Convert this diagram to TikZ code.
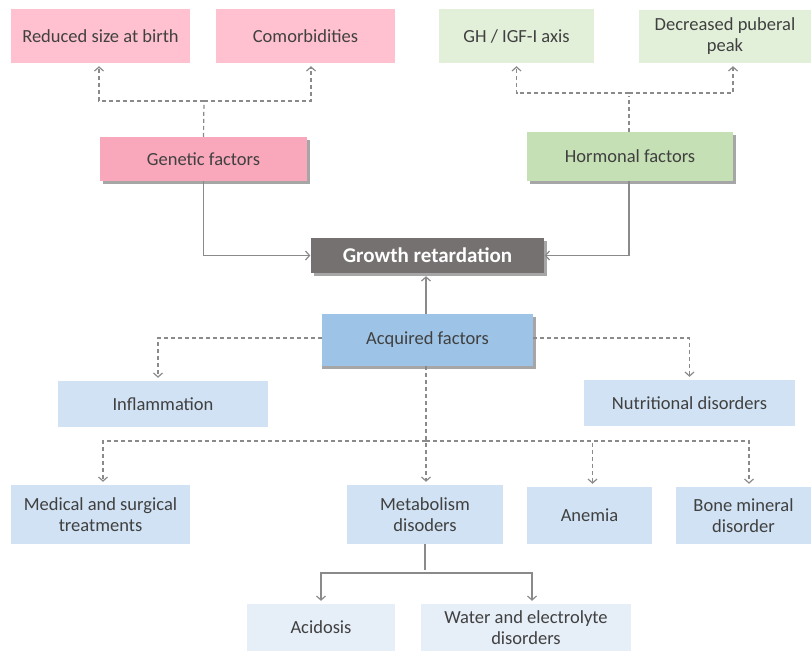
\documentclass[tikz,border=0pt]{standalone}
\usepackage{fontspec}
\setmainfont{Carlito}
\usepackage{tikz}
\usetikzlibrary{arrows.meta, calc, positioning, shadows}

\definecolor{pinklt}{HTML}{FFC1CF}
\definecolor{pinkdk}{HTML}{F9A7BA}
\definecolor{greenlt}{HTML}{E2F0DA}
\definecolor{greendk}{HTML}{C5E0B4}
\definecolor{growgray}{HTML}{767171}
\definecolor{bluedk}{HTML}{9DC3E6}
\definecolor{bluemd}{HTML}{D0E2F3}
\definecolor{bluelt}{HTML}{E6EEF8}
\definecolor{linegray}{HTML}{8A8A8A}
\definecolor{txtgray}{HTML}{404040}

\begin{document}
\begin{tikzpicture}[
    x=1pt, y=-1pt,
    >={Straight Barb[length=4pt,width=9pt]},
    box/.style={
        align=center,
        inner sep=2pt,
        text=txtgray,
        font=\fontsize{18.5}{21}\selectfont
    },
    factor/.style={
        box,
        drop shadow={shadow xshift=2.5pt, shadow yshift=-2.5pt, fill=black!35, opacity=1}
    },
    cause/.style={->, linegray, line width=1.2pt, shorten >=3pt},
    hint/.style={cause, dash pattern=on 4pt off 3pt}
]
\useasboundingbox (0,0) rectangle (811,651);

% genetic branch
\node[box, fill=pinklt, minimum width=179pt, minimum height=54pt] (birth) at (100.5,36) {Reduced size at birth};
\node[box, fill=pinklt, minimum width=179pt, minimum height=54pt] (comorb) at (305.5,36) {Comorbidities};
\node[factor, fill=pinkdk, minimum width=207pt, minimum height=44pt] (gen) at (203.5,159) {Genetic factors};

% hormonal branch
\node[box, fill=greenlt, minimum width=155pt, minimum height=54pt] (axis) at (516.5,36) {GH / IGF-I axis};
\node[box, fill=greenlt, minimum width=172pt, minimum height=53pt] (peak) at (725,36.5) {Decreased puberal\\peak};
\node[factor, fill=greendk, minimum width=206pt, minimum height=49pt] (hor) at (630,156.5) {Hormonal factors};

% centre
\node[factor, fill=growgray, text=white, minimum width=233pt, minimum height=35pt,
      font=\fontsize{21}{24}\selectfont\bfseries] (grow) at (427.5,255.5) {Growth retardation};
\node[factor, fill=bluedk, minimum width=211pt, minimum height=52pt,
      drop shadow={shadow xshift=0pt, shadow yshift=-3pt, fill=black!35, opacity=1}] (acq) at (427.5,340) {Acquired factors};

% acquired branch
\node[box, fill=bluemd, minimum width=210pt, minimum height=46pt] (infl) at (163,404) {Inflammation};
\node[box, fill=bluemd, minimum width=211pt, minimum height=46pt] (nutr) at (689.5,403) {Nutritional disorders};
\node[box, fill=bluemd, minimum width=179pt, minimum height=59pt] (treat) at (100.5,514.5) {Medical and surgical\\treatments};
\node[box, fill=bluemd, minimum width=156pt, minimum height=59pt] (metab) at (425,514.5) {Metabolism\\disoders};
\node[box, fill=bluemd, minimum width=125pt, minimum height=57pt] (anemia) at (589.5,515.5) {Anemia};
\node[box, fill=bluemd, minimum width=135pt, minimum height=57pt] (bone) at (743.5,515.5) {Bone mineral\\disorder};
\node[box, fill=bluelt, minimum width=148pt, minimum height=47pt] (acid) at (321,627.5) {Acidosis};
\node[box, fill=bluelt, minimum width=210pt, minimum height=47pt] (water) at (526,627.5) {Water and electrolyte\\disorders};

% split points
\coordinate (gsplit) at (204,101);
\coordinate (hsplit) at (629,93);
\coordinate (asplit) at (426,441);
\coordinate (msplit) at (425,573);

\draw[hint, -] (gen.north) -- (gsplit);
\draw[hint] (gsplit) -| ([xshift=-1.5pt]birth.south);
\draw[hint] (gsplit) -| ([xshift=5.5pt]comorb.south);

\draw[hint, -] ([xshift=-1pt]hor.north) -- (hsplit);
\draw[hint] (hsplit) -| (axis.south);
\draw[hint] (hsplit) -| ([xshift=8pt]peak.south);

\draw[cause, shorten >=0.5pt] (gen.south) |- (grow.west);
\draw[cause, shorten >=0.5pt] ([xshift=-1pt]hor.south) |- (grow.east);
\draw[cause] ([xshift=-1.5pt]acq.north) -- ([xshift=-1.5pt]grow.south);

\draw[hint] ([yshift=2pt]acq.west) -| ([xshift=-5pt]infl.north);
\draw[hint] ([yshift=2pt]acq.east) -| (nutr.north);
\draw[hint] ([xshift=-1.5pt]acq.south) -- ([xshift=1pt]metab.north);
\draw[hint] (asplit) -| ([xshift=2.5pt]treat.north);
\draw[hint] (asplit) -| ([xshift=3pt]anemia.north);
\draw[hint] (asplit) -| ([xshift=5.5pt]bone.north);

\draw[cause, -] (metab.south) -- (msplit);
\draw[cause] (msplit) -| (acid.north);
\draw[cause] (msplit) -| ([xshift=6pt]water.north);
\end{tikzpicture}
\end{document}
